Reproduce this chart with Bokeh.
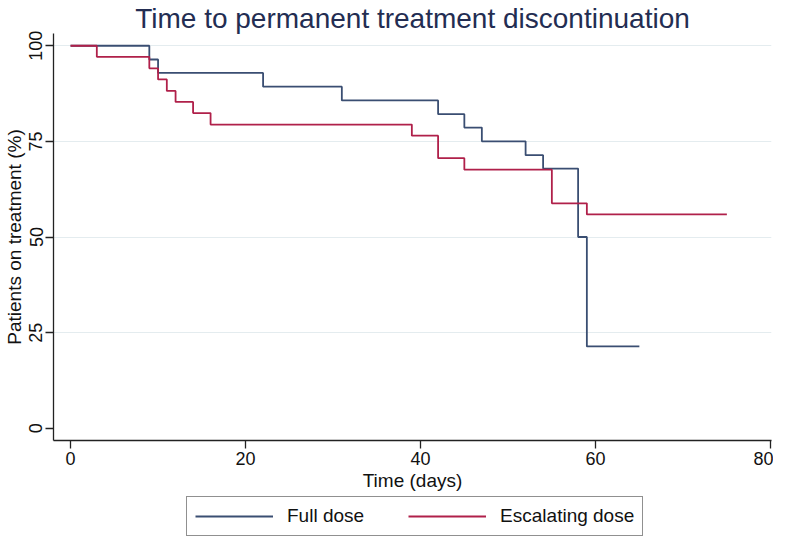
from bokeh.plotting import figure
from bokeh.layouts import column
from bokeh.models import Range1d, FixedTicker, Legend, LegendItem
from bokeh.embed import file_html
from bokeh.resources import INLINE

# Kaplan-Meier estimates
full_time = [0, 9, 10, 22, 31, 42, 45, 47, 52, 54, 58, 59, 65]
full_surv = [100, 96.4, 92.9, 89.3, 85.7, 82.1, 78.6, 75.0, 71.4, 67.9, 50.0, 21.4, 21.4]

esc_time = [0, 3, 9, 10, 11, 12, 14, 16, 39, 42, 45, 55, 59, 75]
esc_surv = [100, 97.1, 94.1, 91.2, 88.2, 85.3, 82.4, 79.4, 76.5, 70.6, 67.6, 58.8, 55.9, 55.9]

x_ticks = [0, 20, 40, 60, 80]
y_ticks = [0, 25, 50, 75, 100]
grid_ticks = [25, 50, 75, 100]

title_text = "Time to permanent treatment discontinuation"
x_label = "Time (days)"
y_label = "Patients on treatment (%)"
series_names = ["Full dose", "Escalating dose"]

BLUE = "#3a4e72"
RED = "#b0204a"
FONT = "Liberation Sans"

# ---- main chart ----
p = figure(width=773, height=493, output_backend="svg", toolbar_location=None,
           x_range=Range1d(-1.95, 80.1), y_range=Range1d(-3.2, 103.2),
           min_border_top=0, min_border_right=2, min_border_left=0, min_border_bottom=0,
           title=title_text)
p.outline_line_color = None
p.background_fill_color = "white"
p.border_fill_color = "white"

p.title.text_font = FONT
p.title.text_font_size = "28px"
p.title.text_font_style = "normal"
p.title.text_color = "#232d52"
p.title.align = "center"
p.title.standoff = 0
p.title.offset = 0

p.step(full_time, full_surv, mode="after", line_color=BLUE, line_width=1.8)
p.step(esc_time, esc_surv, mode="after", line_color=RED, line_width=1.8)

p.xgrid.visible = False
p.ygrid.ticker = FixedTicker(ticks=grid_ticks)
p.ygrid.grid_line_color = "#e4ecef"
p.ygrid.grid_line_width = 1.2

p.xaxis.ticker = FixedTicker(ticks=x_ticks)
p.yaxis.ticker = FixedTicker(ticks=y_ticks)
for ax in (p.xaxis[0], p.yaxis[0]):
    ax.axis_line_color = "#222222"
    ax.axis_line_width = 1.3
    ax.major_tick_line_color = "#222222"
    ax.major_tick_line_width = 1.3
    ax.major_tick_out = 8
    ax.major_tick_in = 0
    ax.minor_tick_line_color = None
    ax.major_label_text_font = FONT
    ax.major_label_text_font_size = "18px"
    ax.major_label_text_color = "#111111"
    ax.axis_label_text_font = FONT
    ax.axis_label_text_font_size = "19px"
    ax.axis_label_text_font_style = "normal"
    ax.axis_label_text_color = "#111111"
    ax.major_label_standoff = 3
    ax.axis_label_standoff = 2

p.xaxis.axis_label = x_label
p.yaxis.axis_label = y_label
p.yaxis.major_label_orientation = "vertical"

# ---- legend strip below the chart ----
lg = figure(width=773, height=46, output_backend="svg", toolbar_location=None,
            x_range=Range1d(-1.95, 80.1), y_range=Range1d(-3.2, 103.2),
            min_border=0)
lg.outline_line_color = None
lg.axis.visible = False
lg.grid.visible = False
l1 = lg.step(full_time, full_surv, mode="after", line_color=BLUE, line_width=1.8, visible=False)
l2 = lg.step(esc_time, esc_surv, mode="after", line_color=RED, line_width=1.8, visible=False)

legend = Legend(items=[LegendItem(label=series_names[0], renderers=[l1]),
                       LegendItem(label=series_names[1], renderers=[l2])],
                orientation="horizontal", location=(133, 3),
                label_text_font=FONT, label_text_font_size="19px",
                label_text_color="#111111",
                glyph_width=78, label_standoff=14, spacing=44,
                padding=8, margin=0,
                inactive_fill_alpha=0.0,
                border_line_color="#222222", border_line_width=1.2,
                background_fill_color="white")
lg.add_layout(legend)

layout = column(p, lg, spacing=0)
open("out.html", "w").write(file_html(layout, INLINE))
